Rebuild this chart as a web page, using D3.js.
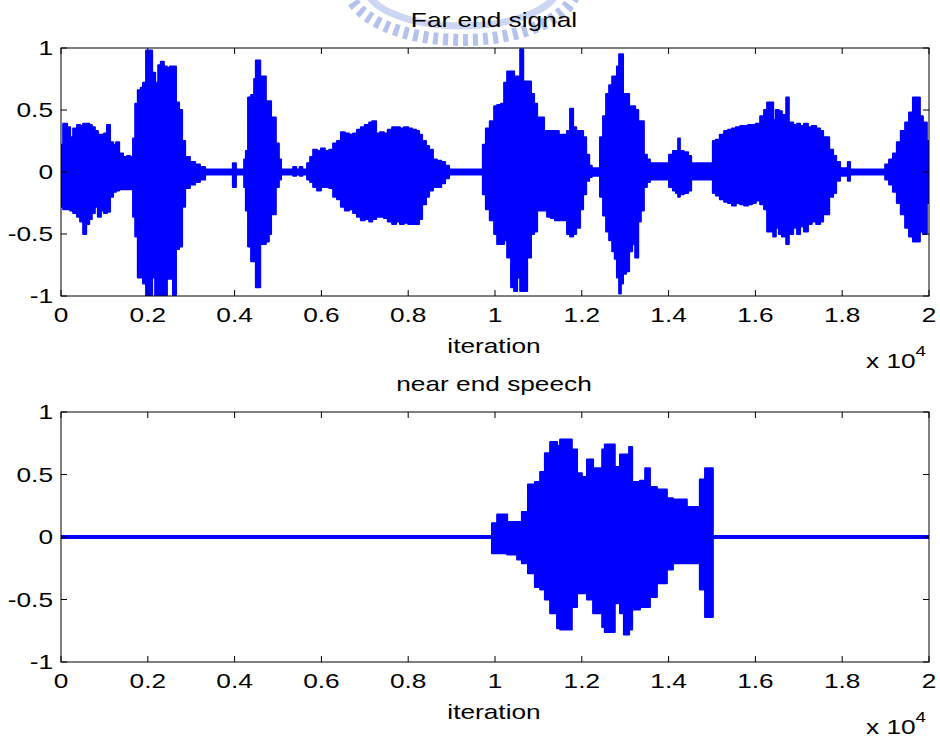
<!DOCTYPE html>
<html>
<head>
<meta charset="utf-8">
<script src="https://cdnjs.cloudflare.com/ajax/libs/d3/7.8.5/d3.min.js"></script>
<style>
  html, body { margin: 0; padding: 0; background: #fff; }
  svg text { font-family: "Liberation Sans", Arial, Helvetica, sans-serif; fill: #000; }
</style>
</head>
<body>
<svg id="chart" width="940" height="740"></svg>
<script>
// ---- data: sampled envelope (max / min) of each signal, by iteration ----
const farIter = [0,50,140,210,280,370,440,510,580,650,710,780,850,920,990,1060,1130,1200,1270,1340,1430,1520,1590,1660,1710,1770,1840,1890,1960,2030,2100,2170,2240,2300,2370,2440,2510,2580,2650,2720,2790,2860,2970,3090,3200,3320,3960,4030,4220,4260,4310,4380,4450,4490,4590,4720,4790,4840,4950,5020,5070,5350,5420,5500,5560,5670,5740,5810,5900,5990,6080,6180,6270,6360,6450,6540,6640,6730,6820,6910,7000,7100,7170,7260,7350,7440,7530,7630,7720,7810,7900,8000,8090,8180,8250,8320,8410,8480,8570,8660,8760,8850,8940,9720,9790,9880,9980,10050,10140,10210,10280,10370,10440,10510,10580,10650,10740,10830,10900,10970,11130,11200,11290,11380,11470,11660,11730,11800,11870,11960,12030,12100,12170,12230,12420,12490,12560,12630,12700,12760,12810,12860,12900,12950,13020,13090,13160,13230,13300,13360,13430,13500,13570,14010,14100,14170,14220,14260,14350,14450,14520,15020,15090,15180,15280,15370,15460,15550,15650,15740,15830,15920,16010,16110,16200,16270,16410,16470,16540,16610,16710,16770,16870,16960,17030,17120,17210,17300,17400,17490,17560,17700,17790,17860,17900,17950,18130,18180,18990,19080,19170,19260,19350,19450,19540,19630,19790,19860,19950,20000];
const farHigh = [0.22,0.39,0.36,0.28,0.35,0.38,0.37,0.39,0.39,0.38,0.36,0.33,0.30,0.30,0.31,0.38,0.24,0.22,0.24,0.15,0.12,0.13,0.12,0.27,0.55,0.66,0.68,0.72,0.98,0.98,0.80,0.72,0.86,0.89,0.85,0.84,0.85,0.85,0.56,0.50,0.25,0.12,0.08,0.06,0.04,0.02,0.07,0.02,0.10,0.17,0.60,0.62,0.75,0.90,0.77,0.57,0.57,0.44,0.23,0.10,0.02,0.04,0.02,0.04,0.02,0.07,0.12,0.18,0.17,0.19,0.17,0.18,0.23,0.25,0.32,0.31,0.30,0.31,0.34,0.36,0.38,0.40,0.41,0.31,0.32,0.31,0.34,0.36,0.36,0.35,0.36,0.35,0.34,0.33,0.30,0.25,0.21,0.18,0.10,0.09,0.08,0.05,0.02,0.22,0.35,0.41,0.53,0.54,0.55,0.72,0.81,0.81,0.77,0.77,0.99,0.73,0.73,0.63,0.55,0.44,0.33,0.33,0.33,0.33,0.30,0.33,0.51,0.36,0.33,0.33,0.28,0.14,0.05,0.03,0.28,0.45,0.63,0.70,0.77,0.77,0.85,0.95,0.95,0.63,0.63,0.53,0.53,0.50,0.41,0.41,0.14,0.10,0.07,0.14,0.17,0.17,0.27,0.17,0.16,0.13,0.07,0.25,0.26,0.30,0.33,0.34,0.35,0.36,0.37,0.37,0.38,0.38,0.39,0.45,0.50,0.56,0.42,0.50,0.49,0.46,0.60,0.40,0.38,0.39,0.37,0.39,0.36,0.37,0.35,0.33,0.28,0.18,0.13,0.03,0.08,0.03,0.08,0.02,0.06,0.10,0.15,0.24,0.33,0.40,0.48,0.60,0.45,0.40,0.25,0.25];
const farLow = [-0.28,-0.30,-0.30,-0.31,-0.33,-0.36,-0.40,-0.50,-0.42,-0.38,-0.33,-0.28,-0.36,-0.31,-0.33,-0.32,-0.20,-0.16,-0.15,-0.14,-0.14,-0.14,-0.14,-0.36,-0.52,-0.85,-0.85,-0.90,-1.00,-1.00,-0.85,-1.00,-1.00,-1.00,-1.00,-0.86,-0.86,-1.00,-0.62,-0.60,-0.28,-0.13,-0.10,-0.08,-0.06,-0.02,-0.12,-0.02,-0.12,-0.31,-0.60,-0.72,-0.72,-0.93,-0.58,-0.56,-0.50,-0.34,-0.12,-0.06,-0.02,-0.03,-0.02,-0.03,-0.02,-0.06,-0.08,-0.12,-0.15,-0.12,-0.12,-0.13,-0.20,-0.22,-0.28,-0.31,-0.30,-0.33,-0.36,-0.39,-0.38,-0.40,-0.38,-0.36,-0.36,-0.37,-0.40,-0.42,-0.40,-0.42,-0.41,-0.42,-0.42,-0.42,-0.38,-0.26,-0.20,-0.15,-0.12,-0.12,-0.09,-0.05,-0.02,-0.18,-0.30,-0.39,-0.50,-0.58,-0.58,-0.55,-0.69,-0.93,-0.96,-0.85,-0.96,-0.96,-0.69,-0.50,-0.48,-0.31,-0.31,-0.36,-0.37,-0.39,-0.39,-0.50,-0.52,-0.50,-0.45,-0.30,-0.18,-0.07,-0.04,-0.03,-0.20,-0.35,-0.48,-0.55,-0.64,-0.70,-0.85,-0.98,-0.90,-0.82,-0.80,-0.64,-0.58,-0.69,-0.40,-0.31,-0.12,-0.08,-0.06,-0.12,-0.15,-0.17,-0.20,-0.18,-0.17,-0.15,-0.06,-0.17,-0.19,-0.22,-0.24,-0.25,-0.27,-0.25,-0.26,-0.27,-0.26,-0.25,-0.23,-0.26,-0.30,-0.48,-0.52,-0.45,-0.50,-0.52,-0.58,-0.50,-0.45,-0.50,-0.44,-0.48,-0.42,-0.40,-0.42,-0.40,-0.34,-0.20,-0.17,-0.03,-0.07,-0.03,-0.07,-0.02,-0.06,-0.10,-0.16,-0.25,-0.34,-0.45,-0.52,-0.56,-0.48,-0.50,-0.25,-0.25];

const nearIter = [0,9900,9930,10050,10280,10510,10620,10760,10920,11040,11150,11270,11430,11500,11730,11770,11890,12000,12120,12260,12470,12530,12760,12880,12970,13090,13160,13340,13460,13570,13730,13960,14100,14420,14720,14840,15000,15020,20000];
const nearHigh = [0.008,0.008,0.11,0.18,0.12,0.12,0.20,0.42,0.44,0.52,0.67,0.76,0.73,0.78,0.78,0.70,0.51,0.48,0.62,0.55,0.70,0.74,0.56,0.66,0.66,0.72,0.44,0.45,0.55,0.40,0.38,0.31,0.30,0.24,0.46,0.55,0.55,0.008,0.008];
const nearLow = [-0.008,-0.008,-0.13,-0.13,-0.14,-0.18,-0.21,-0.29,-0.40,-0.42,-0.50,-0.61,-0.73,-0.74,-0.74,-0.56,-0.45,-0.45,-0.50,-0.61,-0.72,-0.76,-0.53,-0.61,-0.78,-0.74,-0.58,-0.56,-0.56,-0.48,-0.37,-0.26,-0.21,-0.21,-0.42,-0.64,-0.64,-0.008,-0.008];

// ---- axes text ----
const xTickValues = [0,2000,4000,6000,8000,10000,12000,14000,16000,18000,20000];
const xTickLabels = ["0","0.2","0.4","0.6","0.8","1","1.2","1.4","1.6","1.8","2"];
const yTickValues = [-1,-0.5,0,0.5,1];
const yTickLabels = ["-1","-0.5","0","0.5","1"];
const panelTitles = ["Far end signal","near end speech"];
const xLabel = "iteration";

const svg = d3.select("#chart");
const left = 61, right = 929;
const panels = [
  { top: 48, bottom: 296, iter: farIter, hi: farHigh, lo: farLow, title: panelTitles[0] },
  { top: 412, bottom: 662, iter: nearIter, hi: nearHigh, lo: nearLow, title: panelTitles[1] }
];
const SX = 1.25;       // horizontal stretch of the lettering
const FS = 21;
const blue = "#0000ff";

// faint emblem behind the first title
const wm = svg.append("g").attr("opacity", 0.42);
wm.append("ellipse").attr("cx", 462).attr("cy", -14).attr("rx", 114).attr("ry", 54)
  .attr("fill", "none").attr("stroke", "#4f70d4").attr("stroke-width", 12)
  .attr("stroke-dasharray", "5 5");
wm.append("ellipse").attr("cx", 462).attr("cy", -14).attr("rx", 96).attr("ry", 40)
  .attr("fill", "none").attr("stroke", "#8aa0e2").attr("stroke-width", 7);

function stretchedText(g, x, y, str, anchor, size) {
  return g.append("text")
    .attr("transform", `translate(${x},${y}) scale(${SX},1)`)
    .attr("text-anchor", anchor || "middle")
    .attr("font-size", size || FS)
    .text(str);
}

const x = d3.scaleLinear().domain([0, 20000]).range([left, right]);

panels.forEach((p, i) => {
  const y = d3.scaleLinear().domain([-1, 1]).range([p.bottom, p.top]);
  const g = svg.append("g");
  const clipId = "clip" + i;
  svg.append("clipPath").attr("id", clipId)
    .append("rect").attr("x", left).attr("y", p.top)
    .attr("width", right - left).attr("height", p.bottom - p.top);

  const rows = p.iter.map((it, k) => ({ it, hi: p.hi[k], lo: p.lo[k] }));
  const area = d3.area()
    .x(d => x(d.it)).y0(d => y(d.lo)).y1(d => y(d.hi))
    .curve(d3.curveStepAfter);
  g.append("path").datum(rows)
    .attr("clip-path", `url(#${clipId})`)
    .attr("d", area)
    .attr("fill", blue).attr("stroke", blue)
    .attr("stroke-width", 2).attr("stroke-linejoin", "round");

  // inward ticks on all four sides
  const tickLen = 6;
  const ax = g.append("g").attr("stroke", "#000").attr("stroke-width", 1).attr("fill", "none");
  xTickValues.forEach(v => {
    ax.append("line").attr("x1", x(v)).attr("x2", x(v)).attr("y1", p.bottom).attr("y2", p.bottom - tickLen);
    ax.append("line").attr("x1", x(v)).attr("x2", x(v)).attr("y1", p.top).attr("y2", p.top + tickLen);
  });
  yTickValues.forEach(v => {
    ax.append("line").attr("x1", left).attr("x2", left + tickLen).attr("y1", y(v)).attr("y2", y(v));
    ax.append("line").attr("x1", right).attr("x2", right - tickLen).attr("y1", y(v)).attr("y2", y(v));
  });
  ax.append("rect").attr("x", left).attr("y", p.top)
    .attr("width", right - left).attr("height", p.bottom - p.top);

  // tick labels
  xTickValues.forEach((v, k) => stretchedText(g, x(v), p.bottom + 26, xTickLabels[k], "middle"));
  yTickValues.forEach((v, k) => stretchedText(g, left - 8, y(v) + 7, yTickLabels[k], "end"));

  // titles and axis labels
  stretchedText(g, 494, p.top - 21, p.title, "middle");
  stretchedText(g, 494, p.bottom + 57, xLabel, "middle");
  const e = g.append("text")
    .attr("transform", `translate(${866},${p.bottom + 72}) scale(${SX},1)`)
    .attr("font-size", FS);
  e.append("tspan").text("x 10");
  e.append("tspan").attr("dy", -12).attr("font-size", 15).text("4");
});
</script>
</body>
</html>
